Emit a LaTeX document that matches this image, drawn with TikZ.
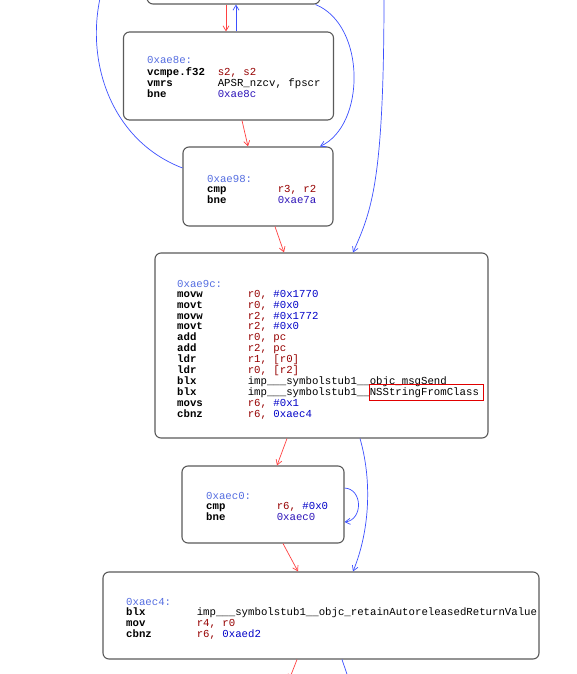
\documentclass[tikz,border=0pt]{standalone}
\usepackage{fontspec}
\setmonofont{Liberation Mono}
\usetikzlibrary{arrows.meta}

\definecolor{lblblue}{RGB}{85,110,225}
\definecolor{regred}{RGB}{150,0,0}
\definecolor{immblue}{RGB}{0,0,200}
\definecolor{addrblue}{RGB}{45,20,185}
\definecolor{edgered}{RGB}{255,65,65}
\definecolor{edgeblue}{RGB}{60,80,255}
\definecolor{boxgray}{RGB}{90,90,90}
\definecolor{hlred}{RGB}{225,0,0}

\newcommand{\lbl}[1]{\textcolor{lblblue}{#1}}
\newcommand{\ins}[2]{\makebox[70.6pt][l]{\bfseries #1}#2}
\newcommand{\rg}[1]{\textcolor{regred}{#1}}
\newcommand{\im}[1]{\textcolor{immblue}{#1}}
\newcommand{\ad}[1]{\textcolor{addrblue}{#1}}

\begin{document}
\begin{tikzpicture}[
    x=1pt, y=-1pt,
    blk/.style={draw=boxgray, line width=1.1pt, rounded corners=6pt, fill=white, inner sep=0pt},
    code/.style={anchor=base west, inner sep=0pt, font=\ttfamily\fontsize{10.7pt}{10.7pt}\selectfont},
    hlbox/.style={draw=hlred, line width=0.9pt, inner sep=0pt},
    tru/.style={-{Straight Barb[length=5pt,width=6pt]}, draw=edgered, line width=0.7pt},
    fls/.style={-{Straight Barb[length=5pt,width=6pt]}, draw=edgeblue, line width=0.7pt},
    nohead/.style={draw=edgeblue, line width=0.7pt}
]
\useasboundingbox[fill=white] (0,0) rectangle (576,674);

% blocks
\node[blk, minimum width=173, minimum height=60]  (btop) at (233.5,-26)  {};
\node[blk, minimum width=210, minimum height=88]  (b8e)  at (228.5,76)   {};
\node[blk, minimum width=150, minimum height=79]  (b98)  at (258,186.5)  {};
\node[blk, minimum width=333, minimum height=185] (b9c)  at (321.5,345.5){};
\node[blk, minimum width=162, minimum height=77]  (bc0)  at (263,504.5)  {};
\node[blk, minimum width=436, minimum height=87]  (bc4)  at (321,615.5)  {};

% block text
\node[code] (t8e) at (147,64) {\begin{tabular}[t]{@{}l@{}}
\lbl{0xae8e:}\\
\ins{vcmpe.f32}{\rg{s2, s2}}\\
\ins{vmrs}{APSR\_nzcv, fpscr}\\
\ins{bne}{\ad{0xae8c}}
\end{tabular}};

\node[code] (t98) at (207,182) {\begin{tabular}[t]{@{}l@{}}
\lbl{0xae98:}\\
\ins{cmp}{\rg{r3, r2}}\\
\ins{bne}{\ad{0xae7a}}
\end{tabular}};

\node[code] (t9c) at (177,287) {\begin{tabular}[t]{@{}l@{}}
\lbl{0xae9c:}\\
\ins{movw}{\rg{r0,} \im{\#0x1770}}\\
\ins{movt}{\rg{r0,} \im{\#0x0}}\\
\ins{movw}{\rg{r2,} \im{\#0x1772}}\\
\ins{movt}{\rg{r2,} \im{\#0x0}}\\
\ins{add}{\rg{r0, pc}}\\
\ins{add}{\rg{r2, pc}}\\
\ins{ldr}{\rg{r1, [r0]}}\\
\ins{ldr}{\rg{r0, [r2]}}\\
\ins{blx}{imp\_\_\_symbolstub1\_\_objc\_msgSend}\\
\ins{blx}{imp\_\_\_symbolstub1\_\_NSStringFromClass}\\
\ins{movs}{\rg{r6,} \im{\#0x1}}\\
\ins{cbnz}{\rg{r6,} \im{0xaec4}}
\end{tabular}};

\node[code] (tc0) at (206,499) {\begin{tabular}[t]{@{}l@{}}
\lbl{0xaec0:}\\
\ins{cmp}{\rg{r6,} \im{\#0x0}}\\
\ins{bne}{\ad{0xaec0}}
\end{tabular}};

\node[code] (tc4) at (126,605) {\begin{tabular}[t]{@{}l@{}}
\lbl{0xaec4:}\\
\ins{blx}{imp\_\_\_symbolstub1\_\_objc\_retainAutoreleasedReturnValue}\\
\ins{mov}{\rg{r4, r0}}\\
\ins{cbnz}{\rg{r6,} \im{0xaed2}}
\end{tabular}};

% highlight
\node[hlbox, minimum width=114, minimum height=16] (hl) at (426,392) {};

% loose ends
\coordinate (up1)  at (101,-6);
\coordinate (in1)  at (384,-6);
\coordinate (out1) at (289,680);
\coordinate (out2) at (349,680);

% edges
\draw[tru] ([xshift=-7.5pt]btop.south) -- ([xshift=-2.5pt]b8e.north);
\draw[fls] ([xshift=7.5pt]b8e.north) -- ([xshift=2.5pt]btop.south);
\draw[tru] ([xshift=13.5pt]b8e.south) -- ([xshift=-10pt]b98.north);
\draw[fls] ([xshift=-5pt]btop.south east) .. controls (366,25) and (366,125) .. ([xshift=62pt]b98.north);
\draw[nohead] ([yshift=18.5pt]b98.west) .. controls (110,140) and (85,60) .. (up1);
\draw[fls] (in1) .. controls (384,180) and (372,210) .. ([xshift=31.5pt]b9c.north);
\draw[tru] ([xshift=17pt]b98.south) -- ([xshift=-37.5pt]b9c.north);
\draw[tru] ([xshift=-34.5pt]b9c.south) -- ([xshift=14pt]bc0.north);
\draw[fls] ([xshift=38.5pt]b9c.south) .. controls (372,480) and (370,530) .. ([xshift=32pt]bc4.north);
\draw[fls] ([yshift=16.5pt]bc0.east) .. controls (363,489) and (363,520) .. ([yshift=-17.5pt]bc0.east);
\draw[tru] ([xshift=20pt]bc0.south) -- ([xshift=-23pt]bc4.north);
\draw[tru] ([xshift=-24pt]bc4.south) -- (out1);
\draw[nohead] ([xshift=21pt]bc4.south) -- (out2);
\end{tikzpicture}
\end{document}
